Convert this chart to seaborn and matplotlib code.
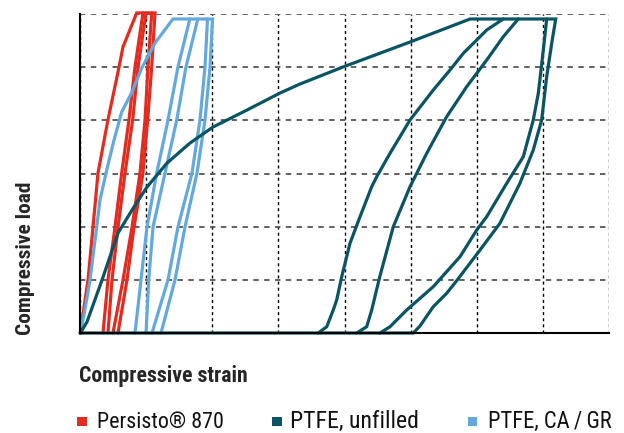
import matplotlib
matplotlib.use("Agg")
import matplotlib.pyplot as plt
from matplotlib.patches import Rectangle
import seaborn as sns
import pandas as pd

# ---------------- data ----------------
labels = ["Persisto® 870", "PTFE, unfilled", "PTFE, CA\u2009/\u2009GR"]
colors = ["#e42b20", "#0a5463", "#64a9dd"]

# Persisto 870 (red)
red_load_x = [0.0, 0.117, 0.192, 0.268, 0.419, 0.586, 0.646, 0.854]
red_load_y = [0.0, 1.0, 1.99, 3.01, 4.01, 5.0, 5.38, 6.02]
red_cyc_y = [0.0, 1.0, 1.99, 3.01, 4.01, 5.0, 6.02]
red_cyc1_x = [0.344, 0.419, 0.525, 0.627, 0.737, 0.828, 0.949]
red_cyc2_x = [0.419, 0.480, 0.571, 0.677, 0.793, 0.874, 0.995]
red_cyc3_x = [0.495, 0.647, 0.783, 0.904, 0.980, 1.025, 1.081]
red_cyc4_x = [0.571, 0.707, 0.813, 0.949, 1.020, 1.081, 1.131]

# PTFE, CA/GR (light blue)
blue_load_x = [0.0, 0.056, 0.147, 0.248, 0.298, 0.400, 0.510, 0.627, 0.783, 0.930, 1.131, 1.403]
blue_load_y = [0.0, 0.339, 0.997, 1.994, 2.501, 3.066, 3.630, 4.157, 4.533, 4.984, 5.454, 5.906]
blue_cyc_y = [0.0, 1.0, 1.994, 3.009, 4.006, 5.003, 5.906]
blue_cyc1_x = [0.828, 0.919, 1.010, 1.157, 1.328, 1.479, 1.658]
blue_cyc2_x = [0.995, 1.036, 1.101, 1.283, 1.460, 1.600, 1.779]
blue_unl_y = [5.906, 5.003, 4.006, 3.009, 1.994, 1.0, 0.0]
blue_unl1_x = [1.926, 1.888, 1.812, 1.691, 1.479, 1.328, 1.086]
blue_unl2_x = [2.002, 1.964, 1.888, 1.767, 1.585, 1.434, 1.222]

# PTFE, unfilled (dark teal)
teal_load_x = [0.0, 0.101, 0.329, 0.571, 0.783, 1.010, 1.313, 1.661, 2.009, 2.524,
               3.024, 3.326, 3.977, 4.992, 5.901]
teal_load_y = [0.0, 0.207, 0.997, 1.881, 2.313, 2.746, 3.197, 3.573, 3.874, 4.194,
               4.514, 4.683, 5.003, 5.473, 5.906]
teal_rel1_x = [3.603, 3.731, 3.830, 3.882, 3.958, 4.083, 4.235, 4.412, 4.488, 4.689,
               4.992, 5.344, 5.597, 5.799, 6.002, 6.153, 6.404]
teal_rel1_y = [0.0, 0.118, 0.433, 0.621, 1.059, 1.687, 2.187, 2.752, 2.940, 3.380,
               4.006, 4.570, 4.946, 5.261, 5.511, 5.699, 5.906]
teal_rel2_x = [4.185, 4.336, 4.412, 4.534, 4.739, 4.992, 5.245, 5.547, 5.850, 6.153, 6.404, 6.631]
teal_rel2_y = [0.0, 0.118, 0.433, 1.059, 2.000, 2.752, 3.380, 4.069, 4.633, 5.134, 5.573, 5.906]
teal_unl1_x = [7.198, 7.137, 7.061, 6.985, 6.858, 6.656, 6.353, 6.052, 5.699, 5.547,
               5.344, 5.143, 5.042]
teal_unl1_y = [5.906, 5.449, 4.820, 4.006, 3.442, 2.816, 2.063, 1.561, 0.984, 0.747,
               0.495, 0.132, 0.0]
teal_unl2_x = [7.061, 7.010, 6.934, 6.858, 6.707, 6.456, 6.153, 6.002, 5.749, 5.344,
               4.942, 4.689, 4.537]
teal_unl2_y = [5.906, 5.323, 4.508, 4.006, 3.316, 2.816, 2.188, 1.937, 1.435, 0.871,
               0.433, 0.118, 0.0]

# ---------------- build long table ----------------
rows = []
def add(mat, seg, xs, ys):
    for x, y in zip(xs, ys):
        rows.append({"material": mat, "segment": f"{mat}-{seg}", "strain": x, "load": y})

add(labels[0], "main", red_load_x + red_cyc4_x[::-1], red_load_y + red_cyc_y[::-1])
add(labels[0], "c1", red_cyc1_x, red_cyc_y)
add(labels[0], "c2", red_cyc2_x, red_cyc_y)
add(labels[0], "c3", red_cyc3_x, red_cyc_y)

add(labels[2], "main", blue_load_x + blue_unl2_x, blue_load_y + blue_unl_y)
add(labels[2], "c1", blue_cyc1_x, blue_cyc_y)
add(labels[2], "c2", blue_cyc2_x, blue_cyc_y)
add(labels[2], "u1", blue_unl1_x, blue_unl_y)

add(labels[1], "main", teal_load_x + teal_unl1_x + [0.0], teal_load_y + teal_unl1_y + [0.0])
add(labels[1], "r1", teal_rel1_x, teal_rel1_y)
add(labels[1], "r2", teal_rel2_x, teal_rel2_y)
add(labels[1], "u2", teal_unl2_x, teal_unl2_y)

df = pd.DataFrame(rows)

# ---------------- figure ----------------
sns.set_style("white")
plt.rcParams["font.family"] = ["Roboto Condensed", "DejaVu Sans"]
plt.rcParams["font.stretch"] = "condensed"

W, H = 624, 433
fig = plt.figure(figsize=(W / 100, H / 100), dpi=100)
x0, x1, y0, y1 = 80.3, 608.7, 333.0, 14.0
ax = fig.add_axes([x0 / W, 1 - y0 / H, (x1 - x0) / W, (y0 - y1) / H])

palette = {labels[0]: colors[0], labels[1]: colors[1], labels[2]: colors[2]}
sns.lineplot(data=df, x="strain", y="load", hue="material", units="segment",
             estimator=None, sort=False, palette=palette,
             hue_order=[labels[0], labels[2], labels[1]],
             linewidth=2.3, legend=False, ax=ax)
for ln in ax.lines:
    ln.set_clip_on(False)
    ln.set_solid_joinstyle("miter")

ax.set_xlim(0, 8)
ax.set_ylim(0, 6)
ax.set_xticks(range(0, 9))
ax.set_yticks(range(0, 7))
ax.tick_params(labelbottom=False, labelleft=False)
ax.tick_params(axis="x", direction="out", length=9, width=1.4, color="black")
ax.tick_params(axis="y", direction="out", length=12, width=1.8, color="#444444")

ax.xaxis.grid(True, color="black", linestyle=(0, (2.2, 2.2)), linewidth=1.0)
ax.yaxis.grid(True, color="#555555", linestyle=(0, (3, 3)), linewidth=1.3)
ax.set_axisbelow(True)

for s in ["top", "right"]:
    ax.spines[s].set_visible(False)
for s in ["left", "bottom"]:
    ax.spines[s].set_color("black")
    ax.spines[s].set_linewidth(1.5)

xl = ax.set_xlabel("Compressive strain", fontsize=14, fontweight="bold",
                   ha="left", va="baseline")
ax.xaxis.set_label_coords((79 - x0) / (x1 - x0), (y0 - 382) / (y0 - y1))
yl = ax.set_ylabel("Compressive load", fontsize=14, fontweight="bold",
                   ha="center", va="center")
ax.yaxis.set_label_coords((26 - x0) / (x1 - x0), (y0 - 258) / (y0 - y1))

# ---------------- legend (bottom row) ----------------
sq_x = [77, 272, 468]
tx_x = [97, 290, 488]
leg_texts = []
for lab, col, sx, tx in zip(labels, colors, sq_x, tx_x):
    fig.add_artist(Rectangle((sx / W, 1 - 426 / H), 9.5 / W, 9.5 / H,
                             transform=fig.transFigure, color=col, lw=0))
    leg_texts.append(fig.text(tx / W, 1 - 427.5 / H, lab, fontsize=16, ha="left",
                              va="baseline", color="#111111"))

# fit text sizes to the widths measured on the reference
targets = [(xl, 169, "w"), (yl, 153, "h")] + list(zip(leg_texts, [127, 129, 124], ["w"] * 3))
for _ in range(2):
    fig.canvas.draw()
    r = fig.canvas.get_renderer()
    for t, tgt, dim in targets:
        bb = t.get_window_extent(r)
        cur = bb.width if dim == "w" else bb.height
        t.set_fontsize(t.get_fontsize() * tgt / cur)

fig.savefig("out.png", dpi=100)
